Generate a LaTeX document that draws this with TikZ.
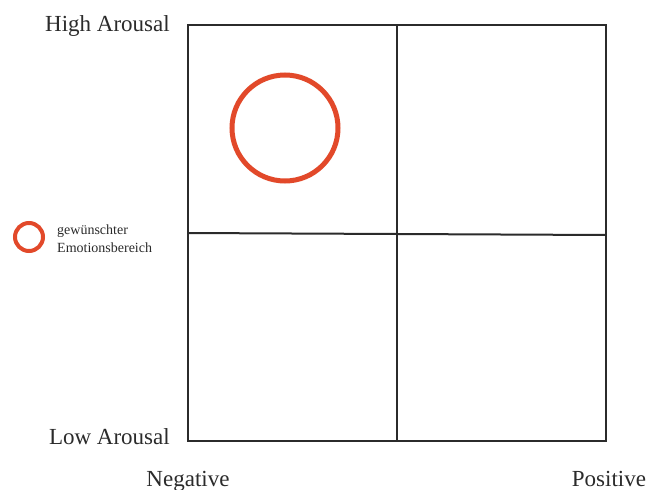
\documentclass[tikz,border=0pt]{standalone}
\usepackage{fontspec}
\setmainfont{Liberation Serif}
\usetikzlibrary{positioning}
\definecolor{Ink}{HTML}{2B2B2B}
\definecolor{Target}{HTML}{E2492A}
\tikzset{grid/.style={draw=Ink,line width=2pt},ring/.style={circle,draw=Target,inner sep=0pt},axislabel/.style={font=\fontsize{23}{26}\selectfont,text=Ink,inner sep=0pt},legendtext/.style={font=\fontsize{14}{18}\selectfont,text=Ink,align=left,inner sep=0pt}}

\begin{document}
\begin{tikzpicture}[x=1pt,y=-1pt]
      \useasboundingbox[fill=white](0,0) rectangle (648,490);
      \coordinate (tl) at (188,25);\coordinate (br) at (606,441);
      \coordinate (tm) at (397,25);\coordinate (bm) at (397,441);
      \coordinate (ml) at (188,233);\coordinate (mr) at (606,235);
      \draw[grid](tl) rectangle (br);
      \draw[grid](tm)--(bm);\draw[grid](ml)--(mr);
      \node[ring,line width=5pt,minimum size=106pt](target)at(285,128){};
      \node[ring,line width=4pt,minimum size=28pt](legendmark)at(29,237){};
      \node[legendtext,anchor=west,right=12pt of legendmark,yshift=-2pt](legendtxt){gewünschter\\Emotionsbereich};
      \node[axislabel,anchor=base east](high)at(170,31){High Arousal};
      \node[axislabel,anchor=base east](low)at(170,444){Low Arousal};
      \node[axislabel,anchor=base](neg)at(188,486){Negative};
      \node[axislabel,anchor=base](pos)at(609,486){Positive};
    \end{tikzpicture}
\end{document}
